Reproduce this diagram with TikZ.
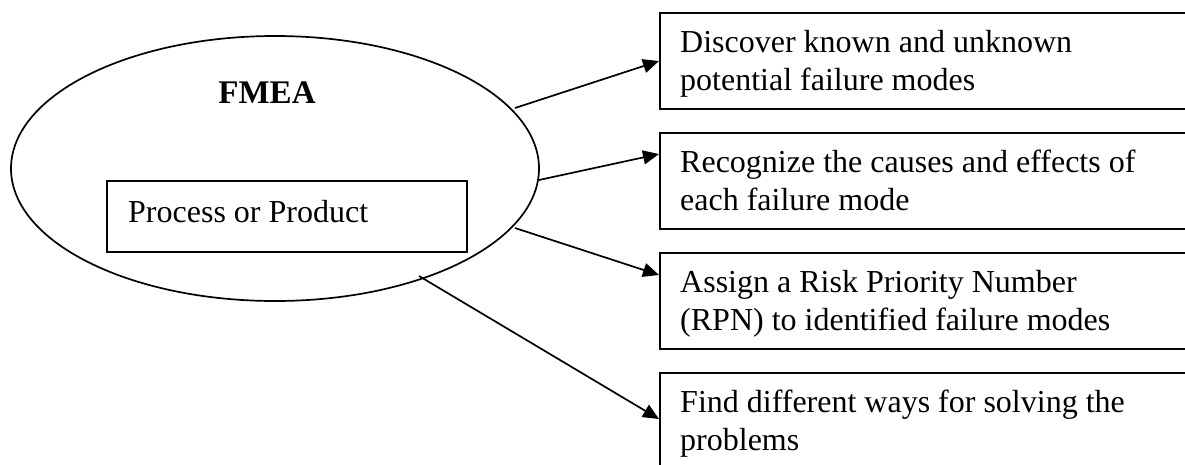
\documentclass[tikz,border=0pt]{standalone}
\usepackage{fontspec}
\setmainfont{Liberation Serif}
\usetikzlibrary{shapes.geometric,arrows.meta,calc}

\tikzset{
  outline/.style={draw=black, line width=1.7pt},
  goalbox/.style={outline, anchor=north west, minimum width=541pt, minimum height=96pt, inner sep=0pt},
  goaltext/.style={anchor=base west, align=left, inner sep=0pt, font=\fontsize{32}{38}\selectfont},
  arr/.style={line width=1.7pt, -{Triangle[length=16pt,width=14pt]}}
}

\begin{document}
\begin{tikzpicture}[x=1pt,y=-1pt]
  \clip (0,0) rectangle (1185,464);

  % central ellipse with title and inner box
  \node[outline, ellipse, minimum width=528pt, minimum height=265pt, inner sep=0pt] (fmea) at (275,168.5) {};
  \node[anchor=base, inner sep=0pt, font=\fontsize{33}{38}\selectfont\bfseries] (title) at (267,103) {FMEA};
  \node[outline, minimum width=360pt, minimum height=71pt, inner sep=0pt] (pp) at (287,216.5) {};
  \node[goaltext] (pptext) at (128,222) {Process or Product};

  % outcome boxes (they run on past the right and bottom edges)
  \node[goalbox] (b1) at (659,12) {};
  \node[goalbox] (b2) at (659,132) {};
  \node[goalbox] (b3) at (659,252) {};
  \node[goalbox] (b4) at (659,372) {};

  % two-line texts: the base anchor sits on the second line
  \node[goaltext] (t1) at ($(b1.north west)+(21,78)$) {Discover known and unknown\\potential failure modes};
  \node[goaltext] (t2) at ($(b2.north west)+(21,78)$) {Recognize the causes and effects of\\each failure mode};
  \node[goaltext] (t3) at ($(b3.north west)+(21,78)$) {Assign a Risk Priority Number\\(RPN) to identified failure modes};
  \node[goaltext] (t4) at ($(b4.north west)+(21,78)$) {Find different ways for solving the\\problems};

  % connector start points on the ellipse
  \coordinate (s1) at (515,108);
  \coordinate (s2) at (539,180);
  \coordinate (s3) at (515,228);
  \coordinate (s4) at (419,276);
  % connector end points on the box edges
  \coordinate (e1) at ($(b1.north west)+(0,49)$);
  \coordinate (e2) at ($(b2.north west)+(0,22)$);
  \coordinate (e3) at ($(b3.north west)+(0,23)$);
  \coordinate (e4) at ($(b4.north west)+(0,47)$);

  \draw[arr] (s1) -- (e1);
  \draw[arr] (s2) -- (e2);
  \draw[arr] (s3) -- (e3);
  \draw[arr] (s4) -- (e4);
\end{tikzpicture}
\end{document}
